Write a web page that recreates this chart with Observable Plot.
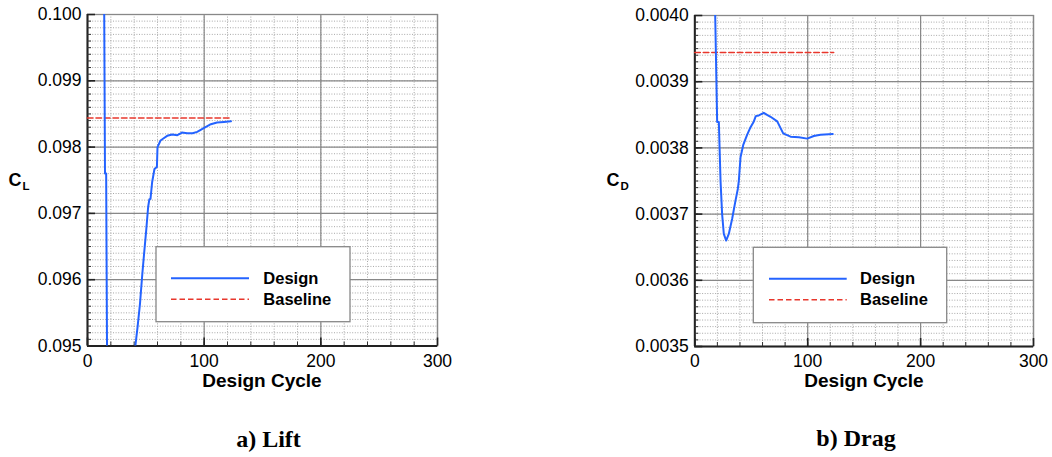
<!DOCTYPE html>
<html>
<head>
<meta charset="utf-8">
<script src="https://cdn.jsdelivr.net/npm/d3@7"></script>
<script src="https://cdn.jsdelivr.net/npm/@observablehq/plot@0.6"></script>
<style>
  body { margin: 0; background: #fff; }
  #page { position: relative; width: 1052px; height: 457px; overflow: hidden; }
  .panel { position: absolute; top: 0; }
  #overlay { position: absolute; left: 0; top: 0; }
</style>
</head>
<body>
<div id="page"></div>
<script>
// Lift history over the design cycles (values outside the axis range are clipped)
const liftCycle = [0, 14, 15, 16, 17, 18, 20, 25, 30, 35, 38, 41, 43, 45, 47, 48.5, 50.3, 52, 53, 54, 55.4, 57.4, 59.5, 60, 62.6, 65, 68.3, 72.6, 77, 81, 85.4, 90, 94, 100, 105, 111, 117, 123];
const liftValue = [0.1045, 0.1012, 0.0976, 0.0976, 0.0940, 0.0925, 0.0918, 0.0915, 0.0920, 0.0930, 0.0940, 0.0950, 0.09530, 0.09564, 0.09609, 0.09639, 0.09674, 0.09710, 0.09721, 0.09722, 0.09747, 0.09767, 0.09770, 0.09800, 0.09810, 0.09813, 0.09817, 0.09819, 0.09818, 0.09822, 0.09821, 0.09821, 0.09823, 0.09829, 0.09834, 0.09837, 0.09838, 0.09839];

// Drag history over the design cycles
const dragCycle = [0, 17, 19.8, 21.3, 22.8, 24.2, 25.7, 27.8, 30.1, 33.1, 36, 38.1, 39, 40.5, 43, 46.4, 49, 52.3, 54, 56.7, 61.1, 64, 67.1, 73, 78.3, 84.8, 92.2, 99.6, 105.4, 111.3, 122.2];
const dragValue = [0.00425, 0.00410, 0.003839, 0.003839, 0.003750, 0.003700, 0.003670, 0.003660, 0.003670, 0.003693, 0.003720, 0.003738, 0.003750, 0.003786, 0.003805, 0.003820, 0.003830, 0.003840, 0.003848, 0.003849, 0.003853, 0.003850, 0.003847, 0.003840, 0.003822, 0.003817, 0.003816, 0.003814, 0.003818, 0.003820, 0.003821];

// Baseline (initial geometry) values, drawn over the same cycle span
const baselineCycles = [0, 123];
const liftBaseline = 0.09844;
const dragBaseline = 0.003944;

// Axis ticks
const cycleTicks = [0, 100, 200, 300];
const liftTicks = [0.095, 0.096, 0.097, 0.098, 0.099, 0.100];
const dragTicks = [0.0035, 0.0036, 0.0037, 0.0038, 0.0039, 0.0040];

const BLUE = "#2463ff";
const RED = "#e8372c";
const FONT = "'Liberation Sans', Arial, Helvetica, sans-serif";
const SERIF = "'Liberation Serif', 'Times New Roman', serif";

function panel({cycles, values, baseline, yTicks, fmt, marginLeft, marginRight, marginTop, marginBottom}) {
  const width = 526, height = 400;
  const plotW = width - marginLeft - marginRight;
  const plotH = height - marginTop - marginBottom;
  const yDomain = [yTicks[0], yTicks[yTicks.length - 1]];
  const yMinor = d3.ticks(yDomain[0], yDomain[1], 50);
  const xMinor = d3.range(0, 301, 20);
  const design = cycles.map((c, i) => ({cycle: c, value: values[i]}));
  const base = baselineCycles.map(c => ({cycle: c, value: baseline}));
  return Plot.plot({
    width, height, marginLeft, marginRight, marginTop, marginBottom,
    style: {fontFamily: FONT, fontSize: "17.5px", color: "#000", background: "transparent", overflow: "visible"},
    x: {domain: [0, 300]},
    y: {domain: yDomain},
    marks: [
      Plot.gridX(xMinor, {stroke: "#a8a8a8", strokeOpacity: 1, strokeDasharray: "1,1.6"}),
      Plot.gridY(yMinor, {stroke: "#a8a8a8", strokeOpacity: 1, strokeDasharray: "1,1.6"}),
      Plot.gridX(cycleTicks, {stroke: "#888", strokeOpacity: 1, strokeWidth: 1.2}),
      Plot.gridY(yTicks, {stroke: "#888", strokeOpacity: 1, strokeWidth: 1.2}),
      Plot.frame({stroke: "#888", strokeWidth: 1.3}),
      Plot.ruleX([0], {stroke: "#222", strokeWidth: 2}),
      Plot.ruleY([yDomain[0]], {stroke: "#222", strokeWidth: 2}),
      Plot.tickY(yMinor, {y: d => d, insetRight: plotW - 4, stroke: "#333", strokeWidth: 1}),
      Plot.tickY(yTicks, {y: d => d, insetRight: plotW - 8, stroke: "#222", strokeWidth: 1.6}),
      Plot.tickX(xMinor, {x: d => d, insetTop: plotH - 4, stroke: "#333", strokeWidth: 1}),
      Plot.tickX(cycleTicks, {x: d => d, insetTop: plotH - 8, stroke: "#222", strokeWidth: 1.6}),
      Plot.axisY({ticks: yTicks, tickSize: 0, tickPadding: 6, tickFormat: fmt, label: null, fontSize: 17.5}),
      Plot.axisX({ticks: cycleTicks, tickSize: 0, tickPadding: 8.5, tickFormat: d => String(d), label: null, fontSize: 17.5}),
      Plot.line(base, {x: "cycle", y: "value", stroke: RED, strokeWidth: 1.6, strokeDasharray: "5.5,3"}),
      Plot.line(design, {x: "cycle", y: "value", stroke: BLUE, strokeWidth: 2, clip: true})
    ]
  });
}

const page = document.getElementById("page");

const lift = panel({
  cycles: liftCycle, values: liftValue, baseline: liftBaseline, yTicks: liftTicks,
  fmt: d3.format(".3f"), marginLeft: 87, marginRight: 89, marginTop: 14, marginBottom: 54.5
});
lift.classList.add("panel");
lift.style.left = "0px";
page.appendChild(lift);

const drag = panel({
  cycles: dragCycle, values: dragValue, baseline: dragBaseline, yTicks: dragTicks,
  fmt: d3.format(".4f"), marginLeft: 168.3, marginRight: 19, marginTop: 15, marginBottom: 54
});
drag.classList.add("panel");
drag.style.left = "526px";
page.appendChild(drag);

// Axis titles, legends and sub-figure captions
const svg = d3.select(page).append("svg")
  .attr("id", "overlay").attr("width", 1052).attr("height", 457);

function yTitle(x, y, main, sub) {
  const t = svg.append("text").attr("x", x).attr("y", y)
    .attr("font-family", FONT).attr("font-weight", "bold").attr("font-size", 18).attr("fill", "#000");
  t.append("tspan").text(main);
  t.append("tspan").attr("font-size", 11.5).attr("dx", 1).attr("dy", 4).text(sub);
}
yTitle(8.5, 186, "C", "L");
yTitle(606.5, 186, "C", "D");

[[262, 387], [864, 387]].forEach(([x, y]) => {
  svg.append("text").attr("x", x).attr("y", y).attr("text-anchor", "middle")
    .attr("font-family", FONT).attr("font-weight", "bold").attr("font-size", 19)
    .attr("fill", "#000").text("Design Cycle");
});

[[268.5, 447, "a) Lift"], [856, 446, "b) Drag"]].forEach(([x, y, s]) => {
  svg.append("text").attr("x", x).attr("y", y).attr("text-anchor", "middle")
    .attr("font-family", SERIF).attr("font-weight", "bold").attr("font-size", 24)
    .attr("fill", "#000").text(s);
});

function legend(x0, y0, w, h, lineX0, lineX1, textX) {
  const g = svg.append("g");
  g.append("rect").attr("x", x0).attr("y", y0).attr("width", w).attr("height", h)
    .attr("fill", "#fff").attr("stroke", "#888").attr("stroke-width", 1.3);
  g.append("line").attr("x1", lineX0).attr("x2", lineX1).attr("y1", y0 + 31.5).attr("y2", y0 + 31.5)
    .attr("stroke", BLUE).attr("stroke-width", 2);
  g.append("line").attr("x1", lineX0).attr("x2", lineX1).attr("y1", y0 + 52.5).attr("y2", y0 + 52.5)
    .attr("stroke", RED).attr("stroke-width", 1.6).attr("stroke-dasharray", "5.5,3");
  [["Design", 36.8], ["Baseline", 57.8]].forEach(([s, dy]) => {
    g.append("text").attr("x", textX).attr("y", y0 + dy)
      .attr("font-family", FONT).attr("font-weight", "bold").attr("font-size", 16.5)
      .attr("fill", "#000").text(s);
  });
}
legend(156, 246.7, 194, 75, 171, 249, 263.3);
legend(753.3, 247.3, 193.4, 75.4, 769, 846.7, 860);
</script>
</body>
</html>
